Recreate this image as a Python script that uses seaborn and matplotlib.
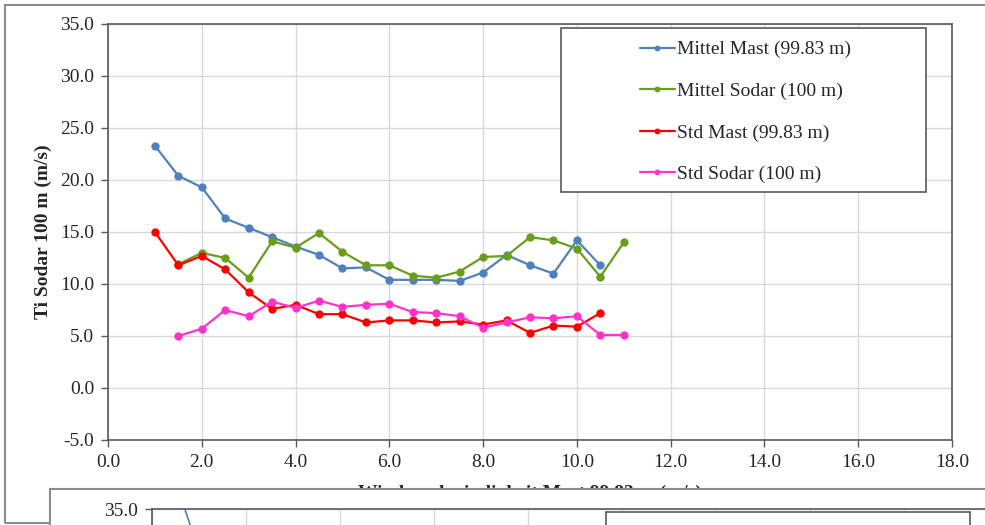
import numpy as np
import pandas as pd
import matplotlib
matplotlib.use("Agg")
import matplotlib.pyplot as plt
from matplotlib.patches import Rectangle
import seaborn as sns

# wind speed bins (m/s)
x_mast = [1.0, 1.5, 2.0, 2.5, 3.0, 3.5, 4.0, 4.5, 5.0, 5.5,
          6.0, 6.5, 7.0, 7.5, 8.0, 8.5, 9.0, 9.5, 10.0, 10.5]
x_sodar = [1.5, 2.0, 2.5, 3.0, 3.5, 4.0, 4.5, 5.0, 5.5, 6.0,
           6.5, 7.0, 7.5, 8.0, 8.5, 9.0, 9.5, 10.0, 10.5, 11.0]

mittel_mast = [23.3, 20.4, 19.3, 16.3, 15.4, 14.5, 13.6, 12.8, 11.5, 11.6,
               10.4, 10.4, 10.4, 10.3, 11.1, 12.8, 11.8, 11.0, 14.2, 11.8]
std_mast = [15.0, 11.8, 12.7, 11.4, 9.2, 7.6, 8.0, 7.1, 7.1, 6.3,
            6.5, 6.5, 6.3, 6.4, 6.1, 6.5, 5.3, 6.0, 5.9, 7.2]
mittel_sodar = [11.9, 13.0, 12.5, 10.6, 14.1, 13.5, 14.9, 13.1, 11.8, 11.8,
                10.8, 10.6, 11.2, 12.6, 12.7, 14.5, 14.2, 13.4, 10.7, 14.0]
std_sodar = [5.0, 5.7, 7.5, 6.9, 8.3, 7.7, 8.4, 7.8, 8.0, 8.1,
             7.3, 7.2, 6.9, 5.8, 6.3, 6.8, 6.7, 6.9, 5.1, 5.1]

labels = ["Mittel Mast (99.83 m)", "Mittel Sodar (100 m)",
          "Std Mast (99.83 m)", "Std Sodar (100 m)"]
colors = ["#4F81BD", "#6A9E1A", "#FF0000", "#FF33CC"]

# second (partly hidden) chart below
second_x = [0.5, 1.0]
second_y = [37.7, 30.9]

x_ticks = np.arange(0, 18.1, 2)
y_ticks = np.arange(-5, 35.1, 5)

sns.set_theme(style="white")
plt.rcParams["font.family"] = ["Liberation Serif", "DejaVu Serif"]
plt.rcParams["font.size"] = 14

W, H = 985, 525
fig = plt.figure(figsize=(W / 100, H / 100), dpi=100)


def fx(px):
    return px / W


def fy(py):
    return 1 - py / H


# outer chart border
fig.add_artist(Rectangle((fx(5), fy(523)), fx(1000) - fx(5), fy(5) - fy(523),
                         fill=False, edgecolor="#8C8C8C", lw=1.5, zorder=1))

ax = fig.add_axes([fx(108), fy(440), fx(952) - fx(108), fy(24) - fy(440)])
series = [(x_mast, mittel_mast), (x_sodar, mittel_sodar),
          (x_mast, std_mast), (x_sodar, std_sodar)]
for (xs, ys), lab, col in zip(series, labels, colors):
    sns.lineplot(x=xs, y=ys, ax=ax, color=col, label=lab, marker="o",
                 markersize=6, markeredgewidth=0, linewidth=1.6)

ax.set_xlim(0, 18)
ax.set_ylim(-5, 35)
ax.set_xticks(x_ticks)
ax.set_yticks(y_ticks)
ax.set_xticklabels([f"{v:.1f}" for v in x_ticks], fontsize=14)
ax.set_yticklabels([f"{v:.1f}" for v in y_ticks], fontsize=14)
ax.grid(True, color="#D9D9D9", lw=1)
ax.set_axisbelow(True)
for s in ax.spines.values():
    s.set_color("#595959")
    s.set_linewidth(1.2)
ax.tick_params(axis="both", direction="out", length=5, width=1, color="#595959",
               pad=5, left=True, bottom=True)
ax.set_ylabel("Ti Sodar 100 m (m/s)", fontsize=14, fontweight="bold")
ax.yaxis.set_label_coords(-0.066, 0.5)
ax.set_xlabel("Windgeschwindigkeit Mast 99.83 m (m/s)", fontsize=14, fontweight="bold")
ax.xaxis.set_label_coords(0.5, -0.108)

# legend frame + legend
ax.add_patch(Rectangle((fx(561), fy(192)), fx(926) - fx(561), fy(28) - fy(192),
                       transform=fig.transFigure, facecolor="white",
                       edgecolor="#595959", lw=1.2, zorder=4, clip_on=False))
leg = ax.legend(loc="upper left", bbox_to_anchor=(fx(630), fy(31)),
                bbox_transform=fig.transFigure, frameon=False, fontsize=14,
                handlelength=1.8, handletextpad=0.1, labelspacing=1.23,
                borderpad=0, markerscale=0.7)
leg.set_zorder(5)

# overlapping second chart
fig.add_artist(Rectangle((fx(50), fy(540)), fx(1000) - fx(50), fy(489) - fy(540),
                         facecolor="white", edgecolor="#8C8C8C", lw=1.5, zorder=5))
ax2 = fig.add_axes([fx(152), fy(925), fx(998) - fx(152), fy(509) - fy(925)], zorder=6)
ax2.patch.set_alpha(0)
sns.lineplot(x=second_x, y=second_y, ax=ax2, color=colors[0], linewidth=1.2)
ax2.set_xlim(0, 18)
ax2.set_ylim(-5, 35)
ax2.set_xticks(x_ticks)
ax2.set_yticks([35.0])
ax2.set_yticklabels(["35.0"], fontsize=14)
ax2.set_xticklabels([])
ax2.grid(True, color="#D9D9D9", lw=1)
ax2.set_axisbelow(True)
for s in ax2.spines.values():
    s.set_color("#595959")
    s.set_linewidth(1.2)
ax2.tick_params(axis="y", direction="out", length=5, width=1, color="#595959",
                pad=5, left=True)
ax2.tick_params(axis="x", length=0)
fig.add_artist(Rectangle((fx(606), fy(540)), fx(970) - fx(606), fy(512) - fy(540),
                         facecolor="white", edgecolor="#595959", lw=1.2, zorder=7))

fig.savefig("out.png", dpi=100)
